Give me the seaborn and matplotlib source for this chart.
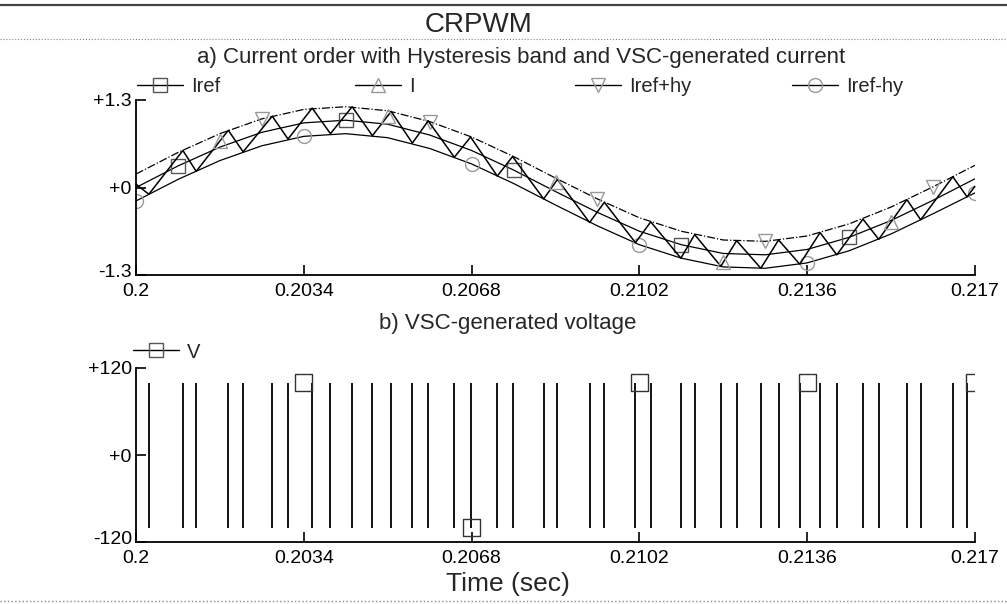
import numpy as np
import matplotlib
matplotlib.use("Agg")
import matplotlib.pyplot as plt
from matplotlib.lines import Line2D
import matplotlib.transforms as mtransforms
import seaborn as sns

# ---------------- data ----------------
T_REF = [0.2, 0.20085, 0.2017, 0.20255, 0.2034, 0.20425, 0.2051, 0.20595, 0.2068,
         0.20765, 0.2085, 0.20935, 0.2102, 0.21105, 0.2119, 0.21275, 0.2136,
         0.21445, 0.2153, 0.21615, 0.217]
IREF = [0.00, 0.32, 0.60, 0.82, 0.96, 1.00, 0.94, 0.78, 0.55, 0.26, -0.06,
        -0.37, -0.65, -0.85, -0.98, -1.00, -0.92, -0.74, -0.49, -0.19, 0.13]
IREF_PLUS_HY = [0.20, 0.52, 0.80, 1.02, 1.16, 1.20, 1.14, 0.98, 0.75, 0.46, 0.14,
                -0.17, -0.45, -0.65, -0.78, -0.80, -0.72, -0.54, -0.29, 0.01, 0.33]
IREF_MINUS_HY = [-0.20, 0.12, 0.40, 0.62, 0.76, 0.80, 0.74, 0.58, 0.35, 0.06, -0.26,
                 -0.57, -0.85, -1.05, -1.18, -1.20, -1.12, -0.94, -0.69, -0.39, -0.08]

I_T = [0.2, 0.20026, 0.20095, 0.20122, 0.20187, 0.20217, 0.20276, 0.20308, 0.20357,
       0.20394, 0.20438, 0.20479, 0.20517, 0.20560, 0.20592, 0.20645, 0.20678,
       0.20732, 0.20763, 0.20826, 0.20854, 0.20919, 0.20949, 0.21012, 0.21043,
       0.21104, 0.21132, 0.21185, 0.21217, 0.21266, 0.21302, 0.21345, 0.21386,
       0.21420, 0.21473, 0.21505, 0.21562, 0.21590, 0.21655, 0.21684, 0.217]
I_VAL = [0.05, -0.10, 0.55, 0.24, 0.85, 0.53, 1.06, 0.72, 1.18, 0.80, 1.20, 0.77,
         1.13, 0.66, 0.99, 0.45, 0.75, 0.17, 0.46, -0.17, 0.12, -0.52, -0.22, -0.82,
         -0.51, -1.05, -0.70, -1.17, -0.79, -1.20, -0.78, -1.14, -0.67, -1.00, -0.47,
         -0.77, -0.18, -0.48, 0.16, -0.14, 0.02]
I_MARK_T = [0.2017, 0.2051, 0.2085, 0.2119, 0.2153]

V_SWITCH_T = I_T[1:-1]          # VSC switching instants
V_LEVEL = 100
V_MARK_T = [0.2034, 0.2068, 0.2102, 0.2136, 0.217]
V_MARK_V = [100, -100, 100, 100, 100]

X_TICKS = [0.2, 0.2034, 0.2068, 0.2102, 0.2136, 0.217]
X_TICK_LABELS = ["0.2", "0.2034", "0.2068", "0.2102", "0.2136", "0.217"]
Y1_TICKS = [-1.3, 0, 1.3]
Y1_LABELS = ["-1.3", "+0", "+1.3"]
Y2_TICKS = [-120, 0, 120]
Y2_LABELS = ["-120", "+0", "+120"]

# ---------------- style ----------------
sns.set_style("ticks")
plt.rcParams["font.family"] = ["Liberation Sans", "DejaVu Sans"]

W, H = 1007, 604
fig = plt.figure(figsize=(W / 100, H / 100), dpi=100)
fig.patch.set_facecolor("white")

def fx(px):
    return px / W

def fy(py):
    return 1 - py / H

ax1 = fig.add_axes([fx(136), fy(275), fx(975) - fx(136), fy(100) - fy(275)])
ax2 = fig.add_axes([fx(136), fy(542), fx(975) - fx(136), fy(368) - fy(542)])

MK_DARK = "#555555"
MK_LIGHT = "#999999"

# ---- top panel ----
sns.lineplot(x=T_REF, y=IREF_PLUS_HY, ax=ax1, color="black", lw=0.9, linestyle="-.",
             marker="v", markevery=slice(3, None, 4), ms=10, mfc="none",
             mec=MK_LIGHT, mew=1.0, estimator=None, sort=False)
sns.lineplot(x=T_REF, y=IREF_MINUS_HY, ax=ax1, color="black", lw=0.9,
             marker="o", markevery=slice(0, None, 4), ms=10, mfc="none",
             mec=MK_LIGHT, mew=1.0, estimator=None, sort=False)
sns.lineplot(x=T_REF, y=IREF, ax=ax1, color="black", lw=0.9,
             marker="s", markevery=slice(1, None, 4), ms=10, mfc="none",
             mec=MK_DARK, mew=1.0, estimator=None, sort=False)
sns.lineplot(x=I_T, y=I_VAL, ax=ax1, color="black", lw=1.1,
             estimator=None, sort=False)
i_mark_v = np.interp(I_MARK_T, I_T, I_VAL)
ax1.plot(I_MARK_T, i_mark_v, ls="none", marker="^", ms=10, mfc="none",
         mec=MK_LIGHT, mew=1.0)

ax1.set_xlim(0.2, 0.217)
ax1.set_ylim(-1.3, 1.3)
ax1.set_yticks(Y1_TICKS)
ax1.set_yticklabels(Y1_LABELS)

# ---- bottom panel ----
ax2.vlines(V_SWITCH_T, -V_LEVEL, V_LEVEL, color="black", lw=1.3)
sns.scatterplot(x=V_MARK_T, y=V_MARK_V, ax=ax2, marker="s", s=150,
                facecolor="none", edgecolor="#333333", linewidth=1.0, zorder=5)
ax2.set_xlim(0.2, 0.217)
ax2.set_ylim(-120, 120)
ax2.set_yticks(Y2_TICKS)
ax2.set_yticklabels(Y2_LABELS)

for ax in (ax1, ax2):
    ax.set_xticks(X_TICKS)
    ax.set_xticklabels(X_TICK_LABELS)
    ax.set_xlabel("")
    ax.set_ylabel("")
    sns.despine(ax=ax, top=True, right=True)
    ax.spines["left"].set_linewidth(1.3)
    ax.spines["bottom"].set_linewidth(1.3)
    ax.spines["left"].set_color("black")
    ax.spines["bottom"].set_color("black")
    ax.tick_params(axis="both", direction="in", length=7, width=1.2,
                   labelsize=14, colors="black", pad=3)
    ax.tick_params(axis="x", pad=6)
    ax.set_facecolor("white")
    # lift the lowest y label slightly so it does not collide with "0.2"
    lab = ax.get_yticklabels()[0]
    lab.set_transform(lab.get_transform() +
                      mtransforms.ScaledTranslation(0, 3 / 72, fig.dpi_scale_trans))

# ---- texts ----
fig.text(fx(479), fy(25), "CRPWM", ha="center", va="center", fontsize=20)
fig.text(fx(521), fy(58), "a) Current order with Hysteresis band and VSC-generated current",
         ha="center", va="center", fontsize=16)
fig.text(fx(508), fy(324), "b) VSC-generated voltage", ha="center", va="center",
         fontsize=16)
fig.text(fx(508), fy(584), "Time (sec)", ha="center", va="center", fontsize=19)

# ---- legends ----
def add_leg(px, py, label, marker, mec, ls="-"):
    h = Line2D([], [], color="black", lw=1.0, ls=ls, marker=marker, ms=10,
               mfc="none", mec=mec, mew=1.0)
    fig.legend(handles=[h], labels=[label], loc="center left",
               bbox_to_anchor=(fx(px), fy(py)), frameon=False, fontsize=14.5,
               handlelength=2.3, handletextpad=0.4, borderpad=0,
               borderaxespad=0, markerscale=1.0)

add_leg(137, 87, "Iref", "s", MK_DARK)
add_leg(355, 87, "I", "^", MK_LIGHT)
add_leg(575, 87, "Iref+hy", "v", MK_LIGHT)
add_leg(792, 87, "Iref-hy", "o", MK_LIGHT)
add_leg(133, 352, "V", "s", MK_DARK)

# ---- frame lines ----
fig.add_artist(Line2D([0, 1], [fy(5), fy(5)], color="#444444", lw=1.6))
fig.add_artist(Line2D([0, 1], [fy(39), fy(39)], color="#888888", lw=0.8, ls=":"))
fig.add_artist(Line2D([0, 1], [fy(601), fy(601)], color="#888888", lw=1.0, ls=":"))

fig.savefig("out.png", dpi=100, facecolor="white")
